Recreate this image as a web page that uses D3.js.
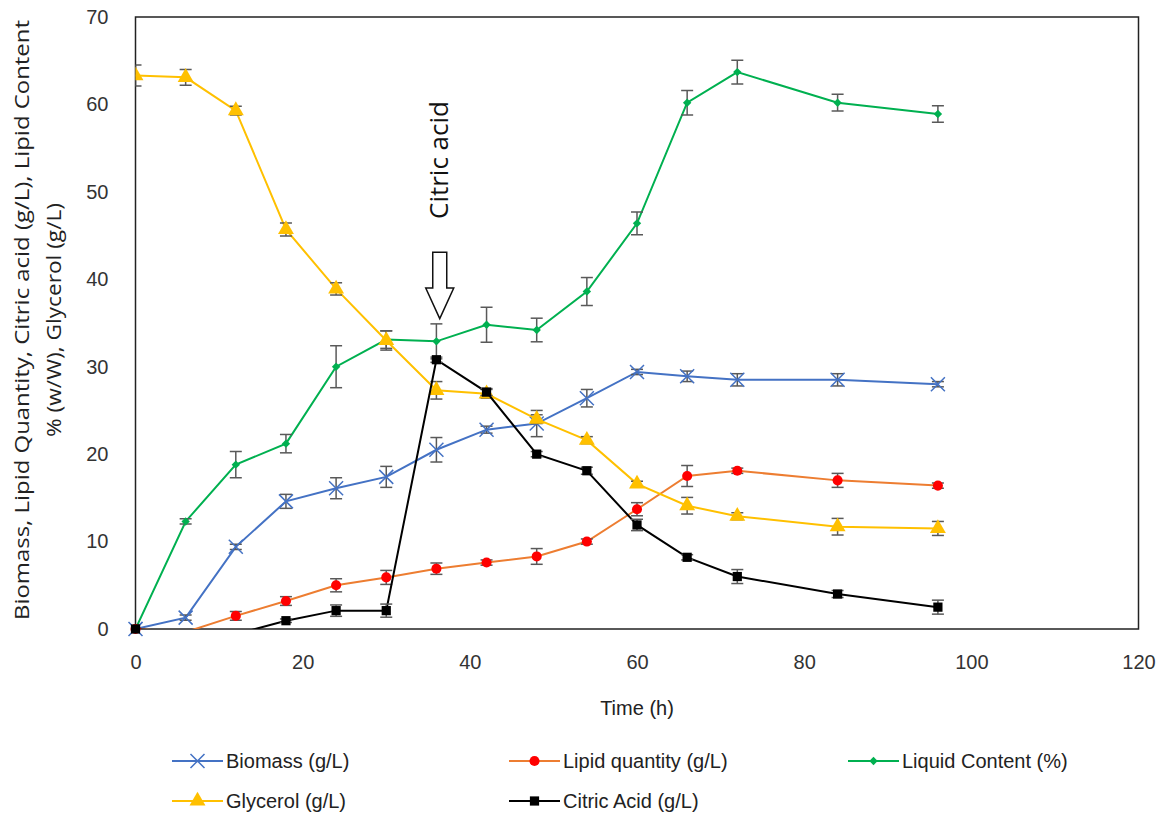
<!DOCTYPE html>
<html>
<head>
<meta charset="utf-8">
<script src="https://cdn.jsdelivr.net/npm/d3@7"></script>
<style>
  body { margin: 0; background: #fff; }
  svg { display: block; }
</style>
</head>
<body>
<svg id="chart" width="1169" height="822"></svg>
<script>
// Sampling times (h)
const times = [0, 6, 12, 18, 24, 30, 36, 42, 48, 54, 60, 66, 72, 84, 96];

// Series values
const biomass     = [0, 1.3, 9.4, 14.6, 16.1, 17.4, 20.5, 22.8, 23.5, 26.4, 29.4, 28.9, 28.5, 28.5, 28.0];
const biomassErr  = [0, 0.3, 0.3, 0.8, 1.2, 1.2, 1.4, 0.4, 1.5, 1.0, 0.3, 0.6, 0.7, 0.7, 0.3];
const lipid       = [0, -0.35, 1.5, 3.2, 5.0, 5.9, 6.9, 7.6, 8.3, 10.0, 13.7, 17.5, 18.1, 17.0, 16.4];
const lipidErr    = [0, 0.35, 0.5, 0.5, 0.75, 0.8, 0.65, 0.3, 0.9, 0.3, 0.75, 1.2, 0.3, 0.8, 0.3];
const liquid      = [0, 12.3, 18.8, 21.2, 30.0, 33.1, 32.9, 34.8, 34.2, 38.6, 46.4, 60.2, 63.7, 60.2, 58.9];
const liquidErr   = [0, 0.3, 1.5, 1.05, 2.4, 1.0, 2.0, 2.0, 1.35, 1.6, 1.3, 1.4, 1.35, 0.95, 0.95];
const glycerol    = [63.3, 63.1, 59.3, 45.7, 38.9, 33.0, 27.3, 26.9, 24.0, 21.6, 16.6, 14.1, 12.9, 11.7, 11.5];
const glycerolErr = [1.2, 0.9, 0.5, 0.75, 0.7, 1.1, 1.0, 0.5, 0.5, 0.4, 0.3, 0.95, 0.4, 0.95, 0.8];
const citric      = [0, -0.5, -0.6, 0.95, 2.1, 2.1, 30.8, 27.1, 20.0, 18.1, 11.9, 8.2, 6.0, 4.0, 2.5];
const citricErr   = [0, 0.4, 0.5, 0.2, 0.65, 0.75, 0.3, 0.4, 0.3, 0.4, 0.65, 0.3, 0.8, 0.4, 0.8];

// Axis ticks
const xTicks = [0, 20, 40, 60, 80, 100, 120];
const yTicks = [0, 10, 20, 30, 40, 50, 60, 70];

const series = [
  { name: "Biomass (g/L)",        values: biomass,  err: biomassErr,  line: "#4472c4", fill: "#4472c4", marker: "x" },
  { name: "Lipid quantity (g/L)", values: lipid,    err: lipidErr,    line: "#ed7d31", fill: "#ff0000", marker: "circle" },
  { name: "Liquid Content (%)",   values: liquid,   err: liquidErr,   line: "#00b050", fill: "#00b050", marker: "diamond" },
  { name: "Glycerol (g/L)",       values: glycerol, err: glycerolErr, line: "#ffc000", fill: "#ffc000", marker: "triangle" },
  { name: "Citric Acid (g/L)",    values: citric,   err: citricErr,   line: "#000000", fill: "#000000", marker: "square" }
];

const svg = d3.select("#chart");
const margin = { left: 135.5, top: 17, right: 30.5, bottom: 193 };
const width = 1169 - margin.left - margin.right;
const height = 822 - margin.top - margin.bottom;

const x = d3.scaleLinear().domain([0, 120]).range([0, width]);
const y = d3.scaleLinear().domain([0, 70]).range([height, 0]);

const g = svg.append("g").attr("transform", `translate(${margin.left},${margin.top})`);

svg.append("defs").append("clipPath").attr("id", "plotClip")
  .append("rect").attr("x", 0).attr("y", -10).attr("width", width).attr("height", height + 10);

const labelFont = "'Liberation Sans', Arial, sans-serif";

// Axes (labels only, no tick marks)
const xAxis = g.append("g").attr("transform", `translate(0,${height})`)
  .call(d3.axisBottom(x).tickValues(xTicks).tickSize(0).tickPadding(26));
const yAxis = g.append("g")
  .call(d3.axisLeft(y).tickValues(yTicks).tickSize(0).tickPadding(27));
[xAxis, yAxis].forEach(a => {
  a.select(".domain").remove();
  a.selectAll("text").attr("font-family", labelFont).attr("font-size", 20).attr("fill", "#333");
});

// Plot area border
g.append("rect")
  .attr("width", width).attr("height", height)
  .attr("fill", "none").attr("stroke", "#222").attr("stroke-width", 1.5);

function markerPath(type) {
  if (type === "circle") return d3.symbol(d3.symbolCircle, 80)();
  if (type === "square") return d3.symbol(d3.symbolSquare, 85)();
  if (type === "triangle") return d3.symbol(d3.symbolTriangle, 110)();
  if (type === "diamond") return "M0,-4.2L4.2,0L0,4.2L-4.2,0Z";
  return "M-7,-7L7,7M-7,7L7,-7";
}

function drawMarker(sel, s) {
  sel.append("path")
    .attr("d", markerPath(s.marker))
    .attr("fill", s.marker === "x" ? "none" : s.fill)
    .attr("stroke", s.marker === "x" ? s.fill : "none")
    .attr("stroke-width", 1.5);
}

const plot = g.append("g").attr("clip-path", "url(#plotClip)");
const line = d3.line().x(d => x(d.t)).y(d => y(d.v));

series.forEach(s => {
  const pts = times.map((t, i) => ({ t, v: s.values[i], e: s.err[i] }));
  const sg = plot.append("g");

  sg.append("path").datum(pts)
    .attr("d", line)
    .attr("fill", "none")
    .attr("stroke", s.line)
    .attr("stroke-width", 2);

  // Error bars
  const eb = sg.selectAll(".err").data(pts.filter(d => d.e > 0)).enter().append("g")
    .attr("stroke", "#595959").attr("stroke-width", 1.5);
  eb.append("line")
    .attr("x1", d => x(d.t)).attr("x2", d => x(d.t))
    .attr("y1", d => y(d.v - d.e)).attr("y2", d => y(d.v + d.e));
  eb.append("line")
    .attr("x1", d => x(d.t) - 6).attr("x2", d => x(d.t) + 6)
    .attr("y1", d => y(d.v + d.e)).attr("y2", d => y(d.v + d.e));
  eb.append("line")
    .attr("x1", d => x(d.t) - 6).attr("x2", d => x(d.t) + 6)
    .attr("y1", d => y(d.v - d.e)).attr("y2", d => y(d.v - d.e));

  // Markers (points below the axis are hidden)
  sg.selectAll(".pt").data(pts.filter(d => d.v >= 0)).enter().append("g")
    .attr("transform", d => `translate(${x(d.t)},${y(d.v)})`)
    .each(function () { drawMarker(d3.select(this), s); });
});

// Markers at the origin sit over the axis line
const markerLayer = g.append("g");
series.forEach(s => {
  times.forEach((t, i) => {
    if (s.values[i] === 0 && t === 0) {
      const m = markerLayer.append("g").attr("transform", `translate(${x(t)},${y(0)})`);
      drawMarker(m, s);
    }
  });
});

// "Citric acid" annotation with hollow down arrow
const ax = x(36.4);
g.append("text")
  .attr("transform", `translate(${ax + 8},${160 - margin.top}) rotate(-90)`)
  .attr("text-anchor", "middle")
  .attr("font-family", "'Open Sans', sans-serif")
  .attr("font-size", 26)
  .attr("fill", "#111")
  .text("Citric acid");

const arrowTop = y(43.1), shaftEnd = y(39.0), tip = y(35.5);
g.append("path")
  .attr("d", `M${ax - 7},${arrowTop}L${ax + 7},${arrowTop}L${ax + 7},${shaftEnd}L${ax + 14},${shaftEnd}` +
             `L${ax},${tip}L${ax - 14},${shaftEnd}L${ax - 7},${shaftEnd}Z`)
  .attr("fill", "#fff")
  .attr("stroke", "#111")
  .attr("stroke-width", 1.5);

// Axis titles
svg.append("text")
  .attr("x", margin.left + width / 2).attr("y", 715)
  .attr("text-anchor", "middle")
  .attr("font-family", labelFont).attr("font-size", 20).attr("fill", "#222")
  .text("Time (h)");

const yTitle = svg.append("g").attr("transform", "translate(0,320) rotate(-90)")
  .attr("font-family", "'Open Sans', sans-serif").attr("font-size", 20).attr("fill", "#222")
  .attr("text-anchor", "middle");
yTitle.append("text").attr("x", 0).attr("y", 29)
  .attr("textLength", 600).attr("lengthAdjust", "spacingAndGlyphs")
  .text("Biomass, Lipid Quantity, Citric acid (g/L), Lipid Content");
yTitle.append("text").attr("x", 0).attr("y", 61)
  .attr("textLength", 234).attr("lengthAdjust", "spacingAndGlyphs")
  .text("% (w/W), Glycerol (g/L)");

// Legend
const legendPos = [[172, 761], [509, 761], [848, 761], [172, 801], [509, 801]];
series.forEach((s, i) => {
  const [lx, ly] = legendPos[i];
  const lg = svg.append("g").attr("transform", `translate(${lx},${ly})`);
  lg.append("line").attr("x1", 0).attr("x2", 51)
    .attr("stroke", s.line).attr("stroke-width", 2);
  const m = lg.append("g").attr("transform", "translate(25.5,0)");
  drawMarker(m, s);
  lg.append("text").attr("x", 54).attr("y", 7)
    .attr("font-family", labelFont).attr("font-size", 20).attr("fill", "#222")
    .text(s.name);
});
</script>
</body>
</html>
